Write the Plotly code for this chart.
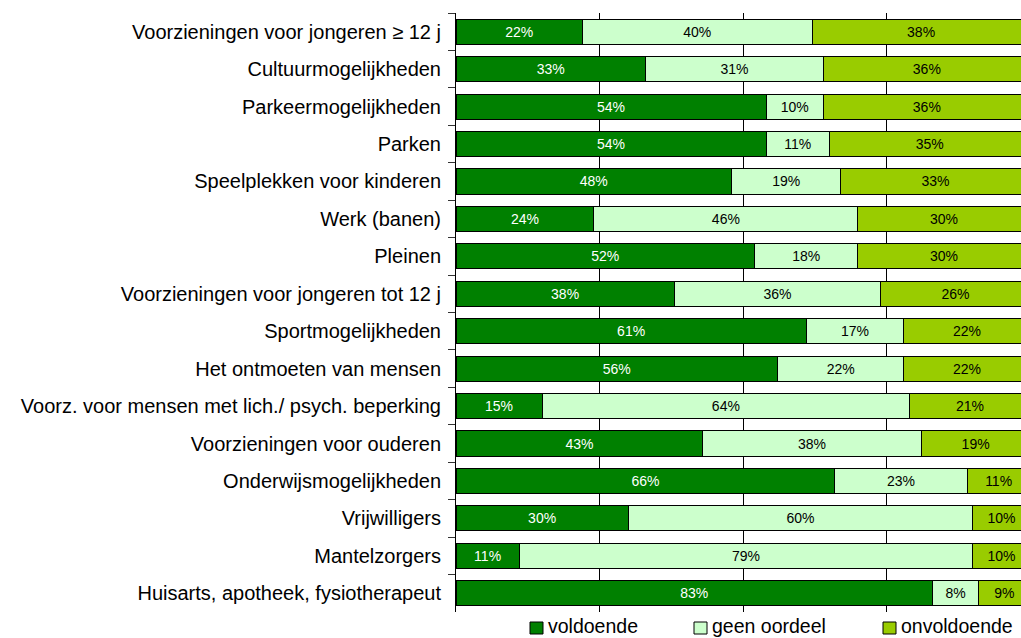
import plotly.graph_objects as go

categories = [
    "Voorzieningen voor jongeren ≥ 12 j",
    "Cultuurmogelijkheden",
    "Parkeermogelijkheden",
    "Parken",
    "Speelplekken voor kinderen",
    "Werk (banen)",
    "Pleinen",
    "Voorzieningen voor jongeren tot 12 j",
    "Sportmogelijkheden",
    "Het ontmoeten van mensen",
    "Voorz. voor mensen met lich./ psych. beperking",
    "Voorzieningen voor ouderen",
    "Onderwijsmogelijkheden",
    "Vrijwilligers",
    "Mantelzorgers",
    "Huisarts, apotheek, fysiotherapeut",
]
voldoende = [22, 33, 54, 54, 48, 24, 52, 38, 61, 56, 15, 43, 66, 30, 11, 83]
geen_oordeel = [40, 31, 10, 11, 19, 46, 18, 36, 17, 22, 64, 38, 23, 60, 79, 8]
onvoldoende = [38, 36, 36, 35, 33, 30, 30, 26, 22, 22, 21, 19, 11, 10, 10, 9]

series = [
    ("voldoende", voldoende, "#008000", "white"),
    ("geen oordeel", geen_oordeel, "#CCFFCC", "black"),
    ("onvoldoende", onvoldoende, "#99CC00", "black"),
]

FONT = "Liberation Sans, Arial, sans-serif"
W, H = 1021, 638
ML, MT, MB = 456, 13, 26
plot_w = W - ML
plot_h = H - MT - MB

fig = go.Figure()
for name, vals, col, tcol in series:
    fig.add_trace(go.Bar(
        y=categories, x=[v / 100 for v in vals], name=name, orientation="h",
        marker=dict(color=col, line=dict(color="black", width=1)),
        text=[f"{v}%" for v in vals], textposition="inside",
        insidetextanchor="middle", constraintext="none",
        textfont=dict(family=FONT, size=14, color=tcol),
        showlegend=False,
    ))

# custom legend (text + squares)
legend_items = [("voldoende", "#008000", 530), ("geen oordeel", "#CCFFCC", 694), ("onvoldoende", "#99CC00", 883)]
shapes = []
annotations = []
for name, col, px in legend_items:
    x0 = (px - ML) / plot_w
    x1 = (px + 13 - ML) / plot_w
    y0 = (MT + plot_h - 622) / plot_h
    y1 = (MT + plot_h - 634) / plot_h
    shapes.append(dict(type="rect", xref="paper", yref="paper", x0=x0, x1=x1, y0=y0, y1=y1,
                       fillcolor=col, line=dict(color="black", width=1)))
    annotations.append(dict(xref="paper", yref="paper", x=(px + 16 - ML) / plot_w,
                            y=(MT + plot_h - 626) / plot_h, xanchor="left", yanchor="middle",
                            text=name, showarrow=False, font=dict(family=FONT, size=19.5, color="black")))

fig.update_layout(
    width=W, height=H,
    margin=dict(l=ML, r=0, t=MT, b=MB, pad=0),
    barmode="stack", bargap=0.33,
    plot_bgcolor="white", paper_bgcolor="white",
    shapes=shapes, annotations=annotations,
    xaxis=dict(range=[0, 0.984], tickvals=[0.25, 0.5, 0.75], showticklabels=False,
               showgrid=True, gridcolor="black", gridwidth=1, zeroline=False,
               showline=False, ticks=""),
    yaxis=dict(autorange="reversed", showline=True, linecolor="black", linewidth=1,
               ticks="outside", ticklen=7, tickcolor="#333", tickson="boundaries",
               tickfont=dict(family=FONT, size=20, color="black"), showgrid=False,
               ticklabelstandoff=10),
    font=dict(family=FONT),
)

fig.write_html("out.html", config={"displayModeBar": False},
               post_script="document.body.style.margin='0';document.body.style.overflow='hidden';")
